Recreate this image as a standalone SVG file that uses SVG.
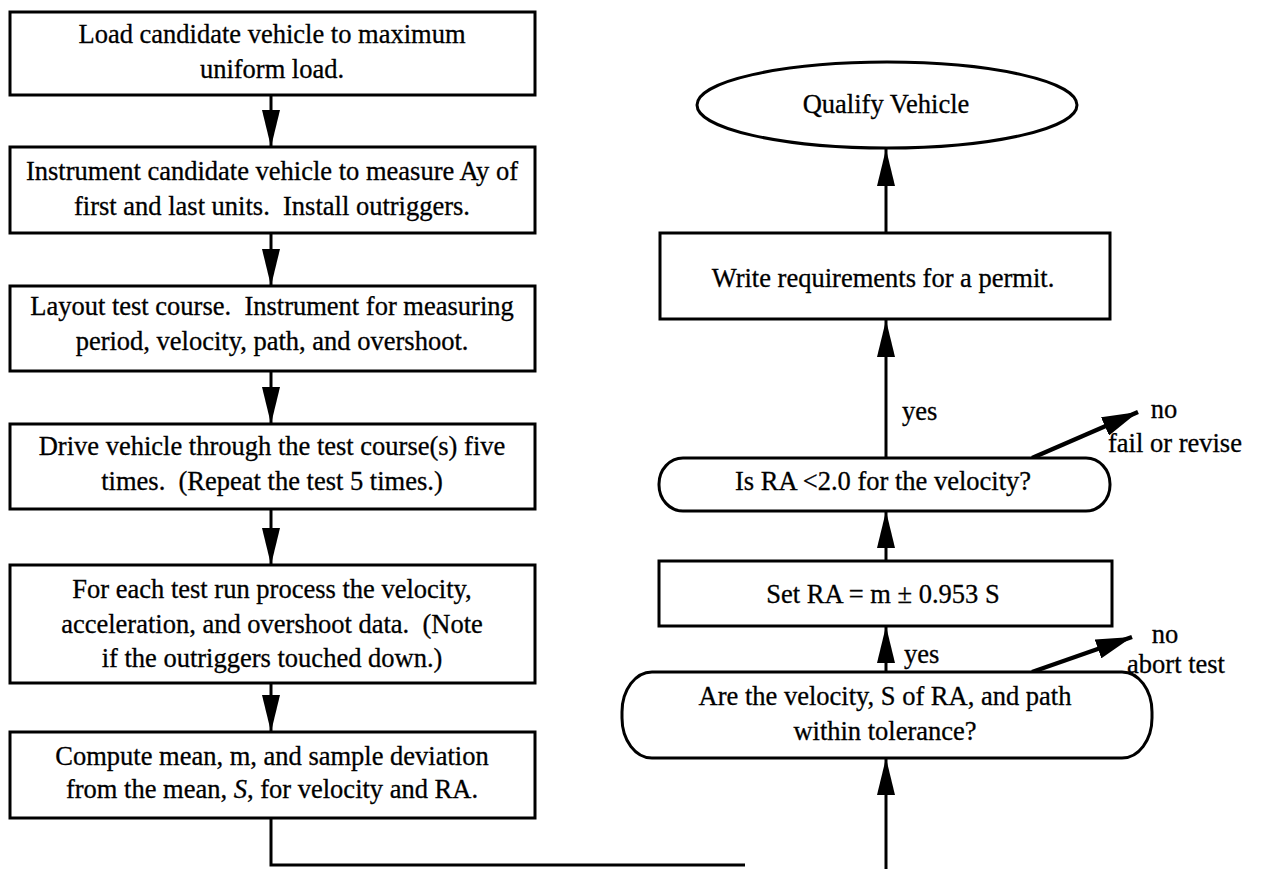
<svg xmlns="http://www.w3.org/2000/svg" width="1263" height="869" viewBox="0 0 1263 869">
  <defs>
    <marker id="arrow" markerUnits="userSpaceOnUse" markerWidth="38" markerHeight="18" refX="37" refY="9" orient="auto">
      <path d="M0,0 L37,9 L0,18 z" fill="#000"/>
    </marker>
    <marker id="arrowNo" markerUnits="userSpaceOnUse" markerWidth="38" markerHeight="20" refX="36" refY="10" orient="auto">
      <path d="M0,0 L36,10 L0,20 z" fill="#000"/>
    </marker>
    <style>
      .box { fill: #fff; stroke: #000; stroke-width: 3; }
      .t { font-family: "Liberation Serif", "Times New Roman", serif; font-size: 26.5px; fill: #000; stroke: #000; stroke-width: 0.3; text-anchor: middle; }
      .lbl { font-family: "Liberation Serif", "Times New Roman", serif; font-size: 26.5px; fill: #000; stroke: #000; stroke-width: 0.3; }
      .c { fill: none; stroke: #000; stroke-width: 3; }
      .no { fill: none; stroke: #000; stroke-width: 4.5; }
    </style>
  </defs>
  <rect width="1263" height="869" fill="#fff"/>

  <!-- connectors -->
  <g id="connectors">
    <line class="c" x1="271" y1="95" x2="271" y2="147" marker-end="url(#arrow)"/>
    <line class="c" x1="271" y1="233" x2="271" y2="286" marker-end="url(#arrow)"/>
    <line class="c" x1="271" y1="371" x2="271" y2="424" marker-end="url(#arrow)"/>
    <line class="c" x1="271" y1="509" x2="271" y2="565" marker-end="url(#arrow)"/>
    <line class="c" x1="271" y1="683" x2="271" y2="732" marker-end="url(#arrow)"/>
    <polyline class="c" points="271,818 271,865 745,865"/>
    <line class="c" x1="886" y1="869" x2="886" y2="758" marker-end="url(#arrow)"/>
    <line class="c" x1="886" y1="672" x2="886" y2="626" marker-end="url(#arrow)"/>
    <line class="c" x1="886" y1="561" x2="886" y2="511" marker-end="url(#arrow)"/>
    <line class="c" x1="886" y1="458" x2="886" y2="320" marker-end="url(#arrow)"/>
    <line class="c" x1="886" y1="233" x2="886" y2="149" marker-end="url(#arrow)"/>
    <line class="no" x1="1032" y1="458" x2="1138" y2="412" marker-end="url(#arrowNo)"/>
    <line class="no" x1="1032" y1="672" x2="1132" y2="637" marker-end="url(#arrowNo)"/>
    <text class="lbl" x="902" y="420">yes</text>
    <text class="lbl" x="904" y="663">yes</text>
    <text class="t" x="1164" y="418">no</text>
    <text class="t" x="1175" y="452">fail or revise</text>
    <text class="t" x="1165" y="643">no</text>
    <text class="t" x="1176" y="673">abort test</text>
  </g>

  <!-- left column: test procedure -->
  <g id="load">
    <rect class="box" x="10" y="12" width="525" height="83"/>
    <text class="t" x="272" y="43">Load candidate vehicle to maximum</text>
    <text class="t" x="272" y="78">uniform load.</text>
  </g>
  <g id="instrument">
    <rect class="box" x="10" y="147" width="525" height="86"/>
    <text class="t" x="272" y="180">Instrument candidate vehicle to measure Ay of</text>
    <text class="t" x="272" y="215">first and last units.&#160; Install outriggers.</text>
  </g>
  <g id="layout">
    <rect class="box" x="10" y="286" width="525" height="85"/>
    <text class="t" x="272" y="315">Layout test course.&#160; Instrument for measuring</text>
    <text class="t" x="272" y="350">period, velocity, path, and overshoot.</text>
  </g>
  <g id="drive">
    <rect class="box" x="10" y="424" width="525" height="85"/>
    <text class="t" x="272" y="455">Drive vehicle through the test course(s) five</text>
    <text class="t" x="272" y="490">times.&#160; (Repeat the test 5 times.)</text>
  </g>
  <g id="process">
    <rect class="box" x="10" y="565" width="525" height="118"/>
    <text class="t" x="272" y="598">For each test run process the velocity,</text>
    <text class="t" x="272" y="633">acceleration, and overshoot data.&#160; (Note</text>
    <text class="t" x="272" y="667">if the outriggers touched down.)</text>
  </g>
  <g id="compute">
    <rect class="box" x="10" y="732" width="525" height="86"/>
    <text class="t" x="272" y="765">Compute mean, m, and sample deviation</text>
    <text class="t" x="272" y="798">from the mean, <tspan font-style="italic">S</tspan>, for velocity and RA.</text>
  </g>

  <!-- right column: evaluation -->
  <g id="qualify">
    <ellipse class="box" cx="887" cy="105" rx="190" ry="43"/>
    <text class="t" x="886" y="113">Qualify Vehicle</text>
  </g>
  <g id="permit">
    <rect class="box" x="660" y="233" width="450" height="86"/>
    <text class="t" x="883" y="287">Write requirements for a permit.</text>
  </g>
  <g id="check-ra">
    <rect class="box" x="659" y="458" width="451" height="53" rx="24" ry="26"/>
    <text class="t" x="883" y="490">Is RA &lt;2.0 for the velocity?</text>
  </g>
  <g id="set-ra">
    <rect class="box" x="659" y="561" width="453" height="65"/>
    <text class="t" x="883" y="603">Set RA = m ± 0.953 S</text>
  </g>
  <g id="check-tolerance">
    <rect class="box" x="622" y="672" width="530" height="86" rx="30" ry="40"/>
    <text class="t" x="885" y="705">Are the velocity, S of RA, and path</text>
    <text class="t" x="885" y="740">within tolerance?</text>
  </g>
</svg>
